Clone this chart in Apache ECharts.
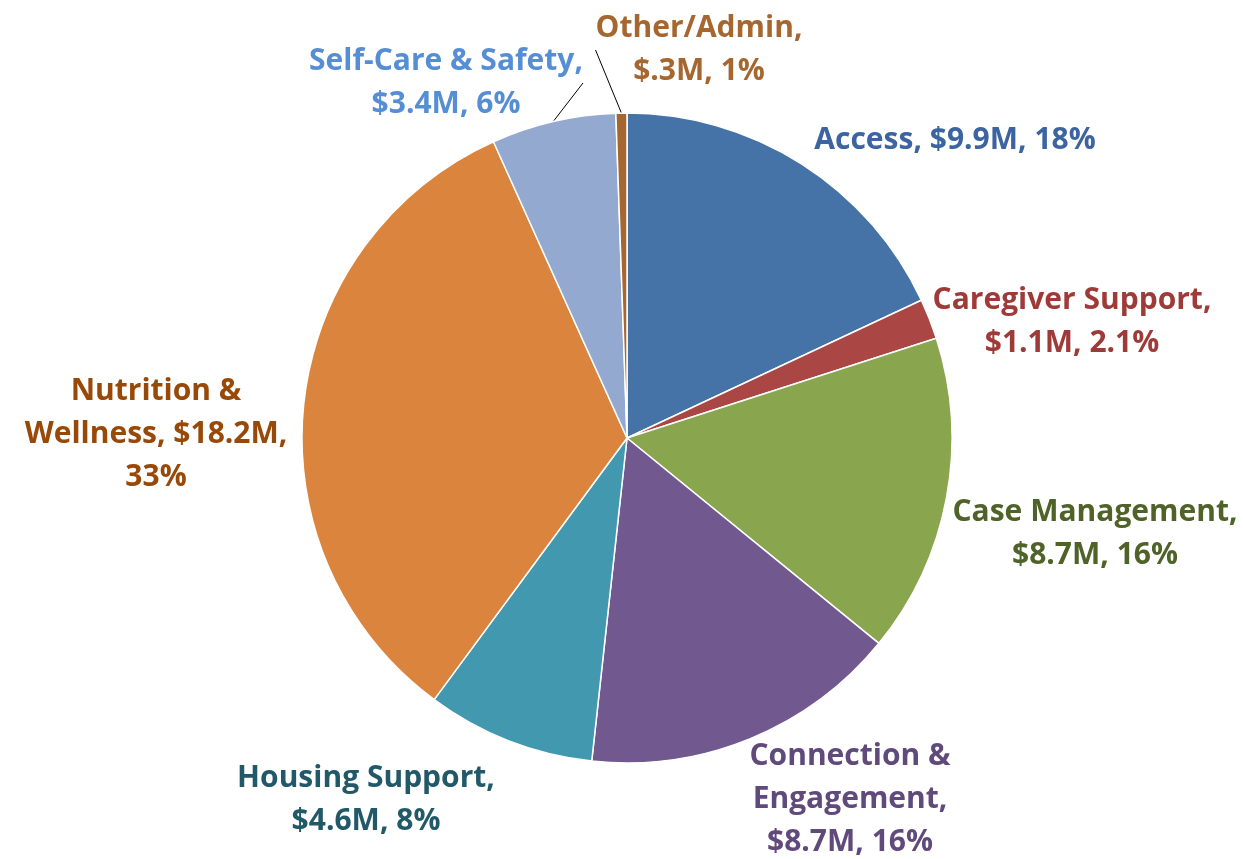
<!DOCTYPE html>
<html>
<head>
<meta charset="utf-8">
<script src="https://cdn.jsdelivr.net/npm/echarts@6/dist/echarts.min.js"></script>
<style>
  html, body { margin: 0; padding: 0; background: #fff; }
  #chart { width: 1243px; height: 859px; }
</style>
</head>
<body>
<div id="chart"></div>
<script>
const categories = ['Access', 'Caregiver Support', 'Case Management', 'Connection & Engagement',
  'Housing Support', 'Nutrition & Wellness', 'Self-Care & Safety', 'Other/Admin'];
const amounts = [9.9, 1.1, 8.7, 8.7, 4.6, 18.2, 3.4, 0.3];
const amountLabels = ['$9.9M', '$1.1M', '$8.7M', '$8.7M', '$4.6M', '$18.2M', '$3.4M', '$.3M'];
const pctLabels = ['18%', '2.1%', '16%', '16%', '8%', '33%', '6%', '1%'];
// how each label wraps in the reference
const labelTexts = [
  'Access, $9.9M, 18%',
  'Caregiver Support,\n$1.1M, 2.1%',
  'Case Management,\n$8.7M, 16%',
  'Connection &\nEngagement,\n$8.7M, 16%',
  'Housing Support,\n$4.6M, 8%',
  'Nutrition &\nWellness, $18.2M,\n33%',
  'Self-Care & Safety,\n$3.4M, 6%',
  'Other/Admin,\n$.3M, 1%'
];

const sliceColors = ['#4572A7', '#AA4643', '#89A54E', '#71588F', '#4198AF', '#DB843D', '#93A9CF', '#A5672F'];
const textColors = ['#3B64A0', '#9E3B39', '#4F6228', '#604A7B', '#215968', '#984807', '#558ED5', '#A5672F'];
// label centres (px) to match the hand-placed labels of the original
const labelSpots = [[955, 140], [1072, 322], [1095, 534], [850, 799], [366, 800], [156, 434], [446, 83], [699, 50]];
const showLine = [false, false, false, false, false, false, true, true];

const chart = echarts.init(document.getElementById('chart'));

chart.setOption({
  animation: false,
  series: [{
    type: 'pie',
    center: [627, 438],
    radius: 325,
    startAngle: 90,
    clockwise: true,
    itemStyle: { borderColor: '#fff', borderWidth: 1.5 },
    label: {
      show: true,
      position: 'outside',
      fontFamily: 'Open Sans',
      fontWeight: 'bold',
      fontSize: 30,
      lineHeight: 43,
      align: 'center',
      overflow: 'none',
      formatter: p => labelTexts[p.dataIndex]
    },
    labelLine: { show: true, length: 8, length2: 10, lineStyle: { color: '#000', width: 1 } },
    labelLayout: p => ({
      x: labelSpots[p.dataIndex][0],
      y: labelSpots[p.dataIndex][1],
      align: 'center',
      verticalAlign: 'middle'
    }),
    data: categories.map((c, i) => ({
      name: c,
      value: amounts[i],
      itemStyle: { color: sliceColors[i] },
      label: { color: textColors[i] },
      labelLine: { show: showLine[i] }
    }))
  }]
});
</script>
</body>
</html>
